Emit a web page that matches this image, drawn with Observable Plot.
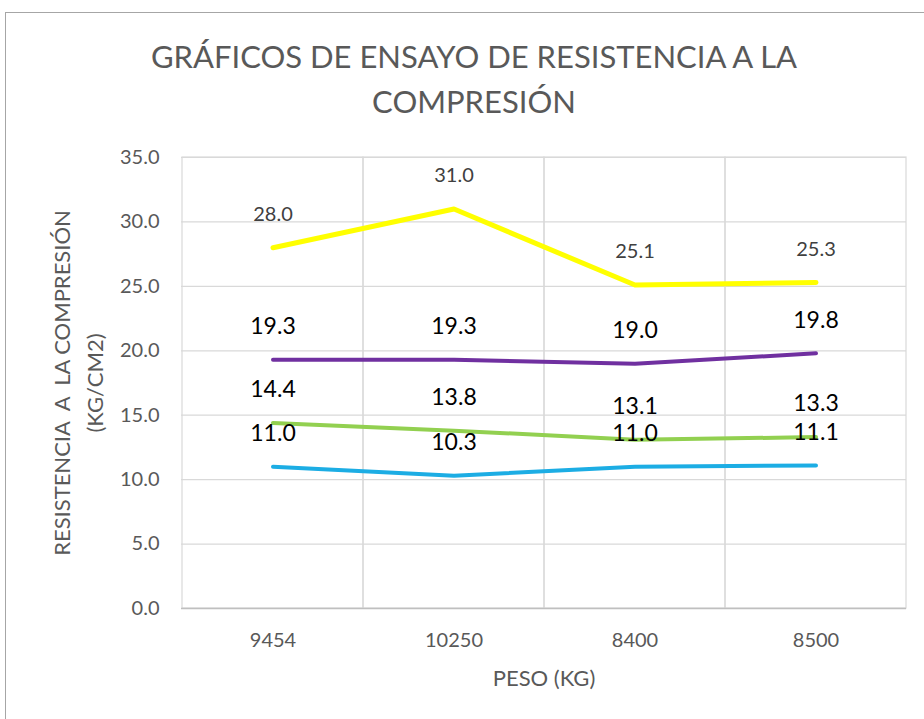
<!DOCTYPE html>
<html><head><meta charset="utf-8">
<script src="https://cdn.jsdelivr.net/npm/d3@7"></script>
<script src="https://cdn.jsdelivr.net/npm/@observablehq/plot@0.6"></script>
<style>
html,body{margin:0;padding:0;background:#fff;overflow:hidden;width:924px;height:719px;}
#wrap{position:relative;width:924px;height:719px;overflow:hidden;}
#border{position:absolute;left:5px;top:12px;width:1000px;height:1000px;border:1.5px solid #a6a6a6;box-sizing:border-box;}
#chart{position:absolute;left:0;top:0;}
</style></head><body>
<div id="wrap"><div id="border"></div><div id="chart"></div></div>
<script>
const pesos = ["9454", "10250", "8400", "8500"];
const serieAmarilla = [28.0, 31.0, 25.1, 25.3];
const serieMorada = [19.3, 19.3, 19.0, 19.8];
const serieVerde = [14.4, 13.8, 13.1, 13.3];
const serieAzul = [11.0, 10.3, 11.0, 11.1];
const yTicks = [0, 5, 10, 15, 20, 25, 30, 35];
const titulo = ["GRÁFICOS DE ENSAYO DE RESISTENCIA A LA", "COMPRESIÓN"];
const tituloY = ["RESISTENCIA  A  LA COMPRESIÓN", "(KG/CM2)"];
const tituloX = "PESO (KG)";

const series = [
  {name: "amarilla", values: serieAmarilla},
  {name: "morada", values: serieMorada},
  {name: "verde", values: serieVerde},
  {name: "azul", values: serieAzul}
];
const estilos = {
  amarilla: {color: "#FFFF00", width: 5, label: "#404040", size: 20},
  morada: {color: "#7030A0", width: 4, label: "#000000", size: 23},
  verde: {color: "#92D050", width: 4, label: "#000000", size: 23},
  azul: {color: "#1CADE4", width: 4, label: "#000000", size: 23}
};
const rows = series.flatMap(s => pesos.map((p, i) => ({serie: s.name, peso: p, valor: s.values[i]})));
const FONT = "Lato, 'Open Sans', sans-serif";

const marks = [
  Plot.ruleY(yTicks, {stroke: "#d9d9d9", strokeWidth: 1.2}),
  Plot.barY(pesos, {x: d => d, y1: 0, y2: 35, fill: "none", stroke: "#d9d9d9", strokeWidth: 1.2}),
  Plot.ruleY([0], {stroke: "#bfbfbf", strokeWidth: 1.5})
];
for (const s of series) {
  const e = estilos[s.name];
  marks.push(Plot.line(rows.filter(r => r.serie === s.name), {
    x: "peso", y: "valor", stroke: e.color, strokeWidth: e.width,
    strokeLinecap: "round", strokeLinejoin: "round"
  }));
}
for (const s of series) {
  const e = estilos[s.name];
  marks.push(Plot.text(rows.filter(r => r.serie === s.name), {
    x: "peso", y: "valor", text: d => d.valor.toFixed(1), dy: -33,
    fill: e.label, fontSize: e.size, fontFamily: FONT
  }));
}
const common = {text: d => d, fill: "#595959", fontFamily: FONT, textAnchor: "middle", lineAnchor: "middle"};
marks.push(
  Plot.text([titulo[0]], {...common, frameAnchor: "top", dx: -70, dy: -99, fontSize: 31}),
  Plot.text([titulo[1]], {...common, frameAnchor: "top", dx: -70, dy: -54, fontSize: 31}),
  Plot.text([tituloY[0]], {...common, frameAnchor: "left", dx: -119, rotate: -90, fontSize: 22}),
  Plot.text([tituloY[1]], {...common, frameAnchor: "left", dx: -86, rotate: -90, fontSize: 22}),
  Plot.text([tituloX], {...common, frameAnchor: "bottom", dy: 70, fontSize: 22})
);

const chart = Plot.plot({
  width: 924,
  height: 719,
  marginTop: 157,
  marginBottom: 111,
  marginLeft: 181,
  marginRight: 18,
  style: {fontFamily: FONT, fontSize: "20px", color: "#595959", background: "transparent", overflow: "visible"},
  x: {type: "band", domain: pesos, padding: 0, tickSize: 0, tickPadding: 24, label: null},
  y: {domain: [0, 35], ticks: yTicks, tickFormat: d3.format(".1f"), tickSize: 0, tickPadding: 22, label: null},
  marks
});
document.getElementById("chart").appendChild(chart);
</script>
</body></html>
